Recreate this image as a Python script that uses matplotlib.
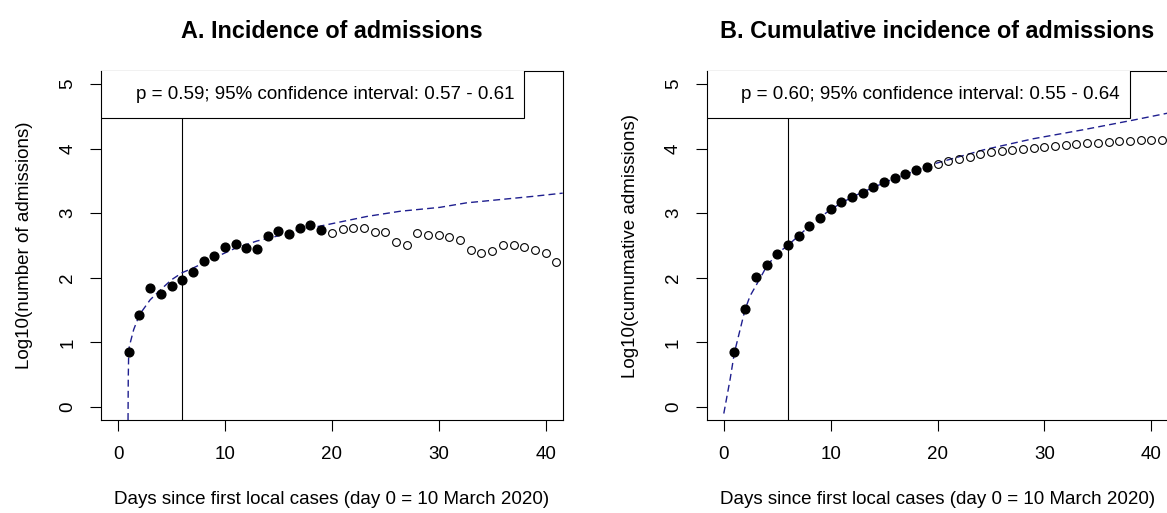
import matplotlib
matplotlib.use("Agg")
import matplotlib.pyplot as plt
from matplotlib.patches import Rectangle

plt.rcParams['font.family'] = ['Liberation Sans', 'DejaVu Sans']

# observed log10 values, days 1-19 used in the fit (filled), days 20-41 not used (open)
fit_days = list(range(1, 20))
later_days = list(range(20, 42))

inc_fit = [0.85, 1.42, 1.84, 1.75, 1.87, 1.96, 2.09, 2.26, 2.33, 2.47, 2.52, 2.46, 2.44, 2.64,
           2.73, 2.68, 2.77, 2.81, 2.74]
inc_later = [2.70, 2.75, 2.77, 2.77, 2.71, 2.71, 2.56, 2.50, 2.70, 2.67, 2.67, 2.63, 2.59, 2.43,
             2.39, 2.41, 2.50, 2.50, 2.48, 2.43, 2.38, 2.25]

cum_fit = [0.85, 1.52, 2.01, 2.20, 2.37, 2.50, 2.65, 2.80, 2.93, 3.07, 3.18, 3.25, 3.31, 3.41,
           3.48, 3.55, 3.61, 3.67, 3.72]
cum_later = [3.76, 3.80, 3.84, 3.87, 3.91, 3.94, 3.96, 3.97, 3.99, 4.01, 4.02, 4.04, 4.06, 4.07,
             4.08, 4.09, 4.10, 4.11, 4.12, 4.13, 4.14, 4.14]

# fitted curves
inc_curve_x = [0.93, 0.95, 0.98, 1.05, 1.46, 2, 3, 4, 5, 6, 7, 9, 11, 13, 15, 17, 18.9, 23.3,
               26.4, 30.1, 32.6, 35.7, 38.8, 41.6]
inc_curve_y = [-0.2, 0.43, 0.74, 0.94, 1.20, 1.43, 1.66, 1.82, 1.97, 2.08, 2.15, 2.31, 2.46,
               2.57, 2.65, 2.75, 2.80, 2.95, 3.03, 3.09, 3.16, 3.21, 3.26, 3.31]

cum_curve_x = [0, 0.59, 0.99, 1.99, 2.46, 3.08, 4.02, 4.96, 5.98, 7, 8, 9, 10, 12, 14, 16, 18,
               19.6, 24.3, 28.9, 33.6, 38.3, 41.6]
cum_curve_y = [-0.1, 0.43, 0.84, 1.51, 1.72, 1.90, 2.18, 2.37, 2.50, 2.65, 2.80, 2.93, 3.06,
               3.25, 3.40, 3.54, 3.66, 3.76, 3.98, 4.15, 4.29, 4.44, 4.55]

titles = ['A. Incidence of admissions', 'B. Cumulative incidence of admissions']
ylabels = ['Log10(number of admissions)', 'Log10(cumumative admissions)']
notes = ['p = 0.59; 95% confidence interval: 0.57 - 0.61',
         'p = 0.60; 95% confidence interval: 0.55 - 0.64']
xlabel = 'Days since first local cases (day 0 = 10 March 2020)'
cutoff_day = 6

W, H = 1167, 513
fig = plt.figure(figsize=(W / 100, H / 100), dpi=100)
ax1 = fig.add_axes([101 / W, 1 - 420 / H, 461.7 / W, 349 / H])
ax2 = fig.add_axes([706.7 / W, 1 - 420 / H, 461.7 / W, 349 / H])

panels = [
    (ax1, inc_fit, inc_later, inc_curve_x, inc_curve_y),
    (ax2, cum_fit, cum_later, cum_curve_x, cum_curve_y),
]

for i, (ax, yfit, ylater, cx, cy) in enumerate(panels):
    ax.plot(cx, cy, linestyle=(0, (5, 3)), color='#1f1f8f', lw=1.0, zorder=2)
    ax.plot(fit_days, yfit, 'o', color='black', markersize=6.3, zorder=4)
    ax.plot(later_days, ylater, 'o', markerfacecolor='none', markeredgecolor='black',
            markersize=5.6, markeredgewidth=0.8, zorder=4)
    ax.axvline(cutoff_day, color='black', lw=0.8, zorder=1)

    # legend-like box with the estimate
    ax.add_patch(Rectangle((-1.6, 4.473), 39.57, 0.8, facecolor='white', edgecolor='black',
                           lw=0.8, zorder=5))
    ax.text(1.65, 4.836, notes[i], fontsize=13.5, ha='left', va='center', zorder=6)

    ax.set_xlim(-1.6, 41.6)
    ax.set_ylim(-0.2, 5.2)
    ax.set_xticks([0, 10, 20, 30, 40])
    ax.set_yticks([0, 1, 2, 3, 4, 5])
    ax.tick_params(axis='both', length=7.7, width=0.8, labelsize=13.5)
    ax.tick_params(axis='x', pad=11)
    ax.tick_params(axis='y', pad=10)
    for lab in ax.get_yticklabels():
        lab.set_rotation(90)
        lab.set_va('center')
    for sp in ax.spines.values():
        sp.set_linewidth(0.8)
        sp.set_color('black')

    ax.set_title(titles[i], fontsize=16.8, fontweight='bold', pad=23.5)
    ax.set_xlabel(xlabel, fontsize=13.5, labelpad=20)
    ax.set_ylabel(ylabels[i], fontsize=13.5, labelpad=19)

fig.savefig('out.png', dpi=100)
